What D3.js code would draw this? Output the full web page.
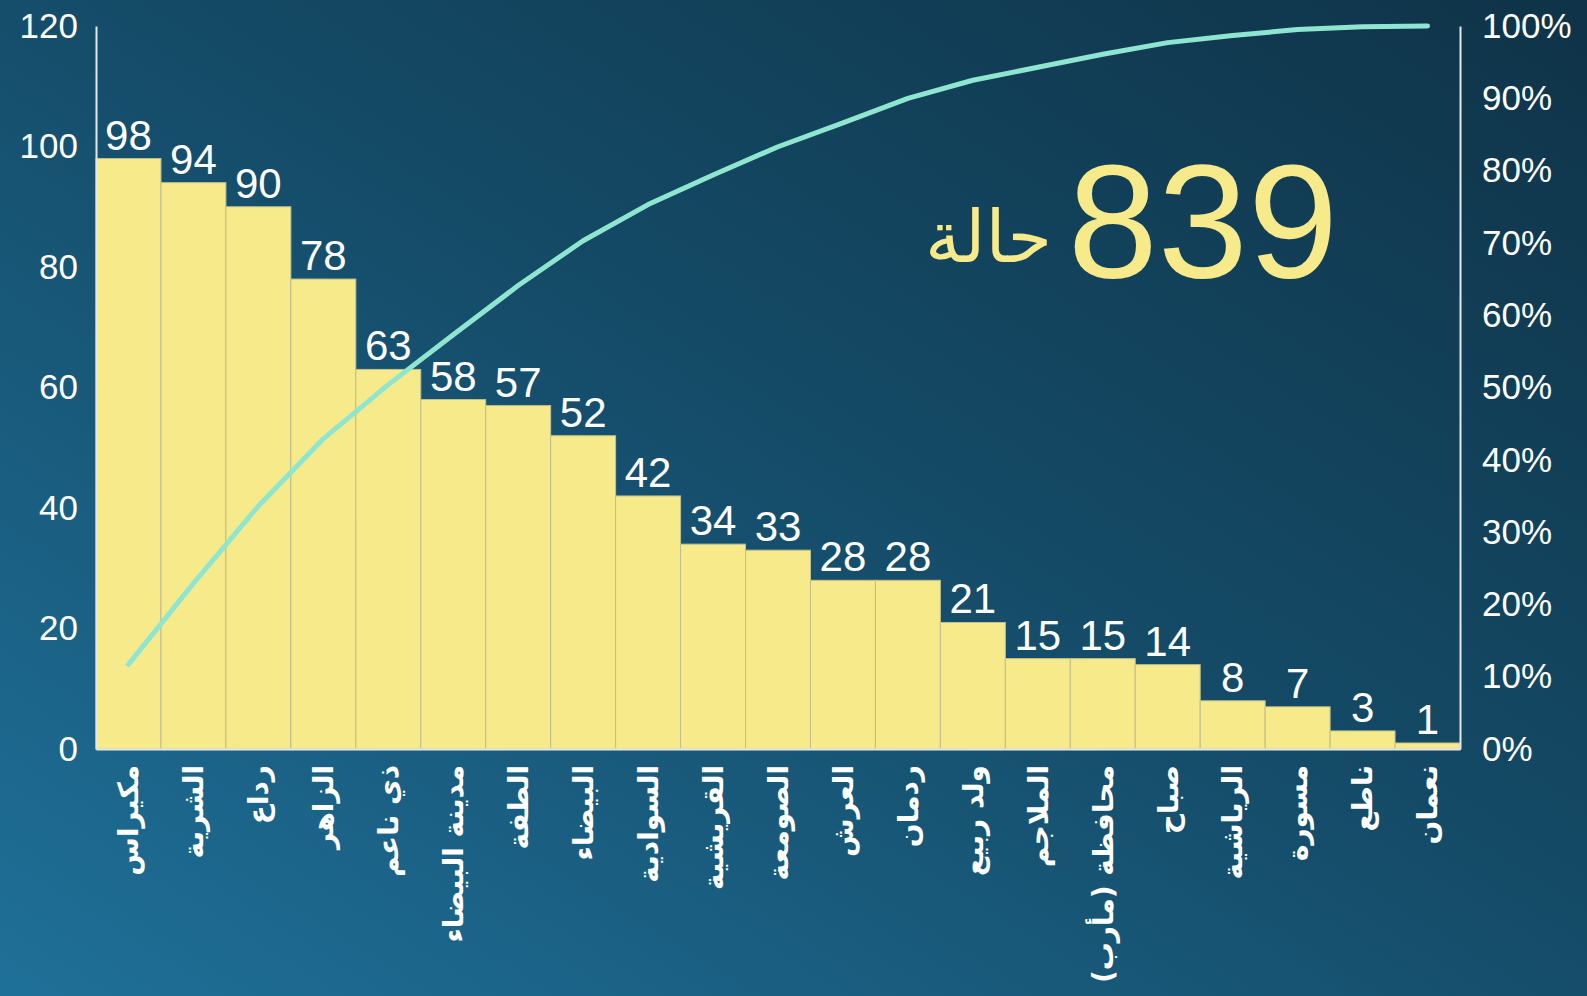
<!DOCTYPE html>
<html lang="ar">
<head>
<meta charset="utf-8">
<title>Pareto - cases by district</title>
<script src="https://d3js.org/d3.v7.min.js"></script>
<style>
body { margin: 0; background: #133f57; }
svg text { font-family: "Liberation Sans", Arial, sans-serif; fill: #fff; }
.xlab { font-family: "DejaVu Sans", sans-serif; font-weight: bold; }
</style>
</head>
<body>
<div id="chart"></div>
<script>
// districts, left to right
var districts = ["مكيراس", "الشرية", "رداع", "الزاهر", "ذي ناعم", "مدينة البيضاء", "الطفة",
  "البيضاء", "السوادية", "القريشية", "الصومعة", "العرش", "ردمان", "ولد ربيع", "الملاجم",
  "محافظة (مأرب)", "صباح", "الرياشية", "مسورة", "ناطع", "نعمان"];
var cases = [98, 94, 90, 78, 63, 58, 57, 52, 42, 34, 33, 28, 28, 21, 15, 15, 14, 8, 7, 3, 1];
// cumulative share (%)
var cumPct = [11.7, 22.9, 33.6, 42.9, 50.4, 57.3, 64.1, 70.3, 75.3, 79.4, 83.3, 86.6, 90.0,
  92.5, 94.3, 96.1, 97.7, 98.7, 99.5, 99.9, 100];
var leftTicks = [0, 20, 40, 60, 80, 100, 120];
var rightTicks = [0, 10, 20, 30, 40, 50, 60, 70, 80, 90, 100];
var total = "839", totalWord = "حالة";

var W = 1587, H = 996;
var margin = {top: 26, right: 127, bottom: 247, left: 96},
    width = W - margin.left - margin.right,
    height = H - margin.top - margin.bottom;

var svg = d3.select("#chart").append("svg")
    .attr("width", W).attr("height", H);

// background gradient
var grad = svg.append("defs").append("linearGradient")
    .attr("id", "bg").attr("x1", "0%").attr("y1", "100%").attr("x2", "100%").attr("y2", "0%");
grad.append("stop").attr("offset", "0%").attr("stop-color", "#1f7099");
grad.append("stop").attr("offset", "55%").attr("stop-color", "#144a66");
grad.append("stop").attr("offset", "100%").attr("stop-color", "#0f3348");
svg.append("rect").attr("width", W).attr("height", H).attr("fill", "url(#bg)");

var g = svg.append("g").attr("transform", "translate(" + margin.left + "," + margin.top + ")");

var x = d3.scaleBand().domain(districts).range([0, width]).padding(0);
var y = d3.scaleLinear().domain([0, 120]).range([height, 0]);
var y2 = d3.scaleLinear().domain([0, 100]).range([height, 0]);

// bars
g.selectAll(".bar").data(cases).enter().append("rect")
    .attr("class", "bar")
    .attr("x", function(d, i) { return x(districts[i]); })
    .attr("y", function(d) { return y(d); })
    .attr("width", x.bandwidth())
    .attr("height", function(d) { return height - y(d); })
    .attr("fill", "#f7ea8a")
    .attr("stroke", "#c4bf8c")
    .attr("stroke-width", 1);

// value labels
g.selectAll(".val").data(cases).enter().append("text")
    .attr("x", function(d, i) { return x(districts[i]) + x.bandwidth() / 2; })
    .attr("y", function(d) { return y(d) - 9; })
    .attr("text-anchor", "middle")
    .style("font-size", "42px")
    .text(function(d) { return d; });

// cumulative line
var line = d3.line()
    .x(function(d, i) { return x(districts[i]) + x.bandwidth() / 2; })
    .y(function(d) { return y2(d); });
g.append("path").datum(cumPct)
    .attr("d", line)
    .attr("fill", "none")
    .attr("stroke", "#8fe6d0")
    .attr("stroke-width", 5)
    .attr("stroke-linecap", "round")
    .attr("stroke-linejoin", "round");

// axes
var yAxisL = g.append("g").call(d3.axisLeft(y).tickValues(leftTicks).tickSize(0).tickPadding(18));
var yAxisR = g.append("g").attr("transform", "translate(" + width + ",0)")
    .call(d3.axisRight(y2).tickValues(rightTicks).tickSize(0).tickPadding(22)
      .tickFormat(function(d) { return d + "%"; }));
var xAxis = g.append("g").attr("transform", "translate(0," + height + ")")
    .call(d3.axisBottom(x).tickSize(0).tickFormat(""));

[yAxisL, yAxisR, xAxis].forEach(function(a) {
  a.select(".domain").attr("stroke", "#e4e8ea").attr("stroke-width", 2);
});
yAxisL.selectAll("text").style("font-size", "35px").attr("fill", "#fff");
yAxisR.selectAll("text").style("font-size", "35px").attr("fill", "#fff");

// rotated district names
g.selectAll(".xlab").data(districts).enter().append("text")
    .attr("class", "xlab")
    .attr("transform", function(d) {
      return "translate(" + (x(d) + x.bandwidth() / 2) + "," + (height + 16) + ") rotate(-90)";
    })
    .attr("direction", "rtl")
    .attr("text-anchor", "start")
    .attr("dy", "0.35em")
    .style("font-size", "28px")
    .text(function(d) { return d; });

// total annotation
g.append("text")
    .attr("x", 1338 - margin.left).attr("y", 277 - margin.top)
    .attr("text-anchor", "end")
    .style("font-size", "162px")
    .style("fill", "#f7ea8a")
    .text(total);
g.append("text")
    .attr("x", 1052 - margin.left).attr("y", 262 - margin.top)
    .attr("text-anchor", "end")
    .style("font-family", "'DejaVu Sans', sans-serif")
    .style("font-size", "72px")
    .style("fill", "#f7ea8a")
    .text(totalWord);
</script>
</body>
</html>
